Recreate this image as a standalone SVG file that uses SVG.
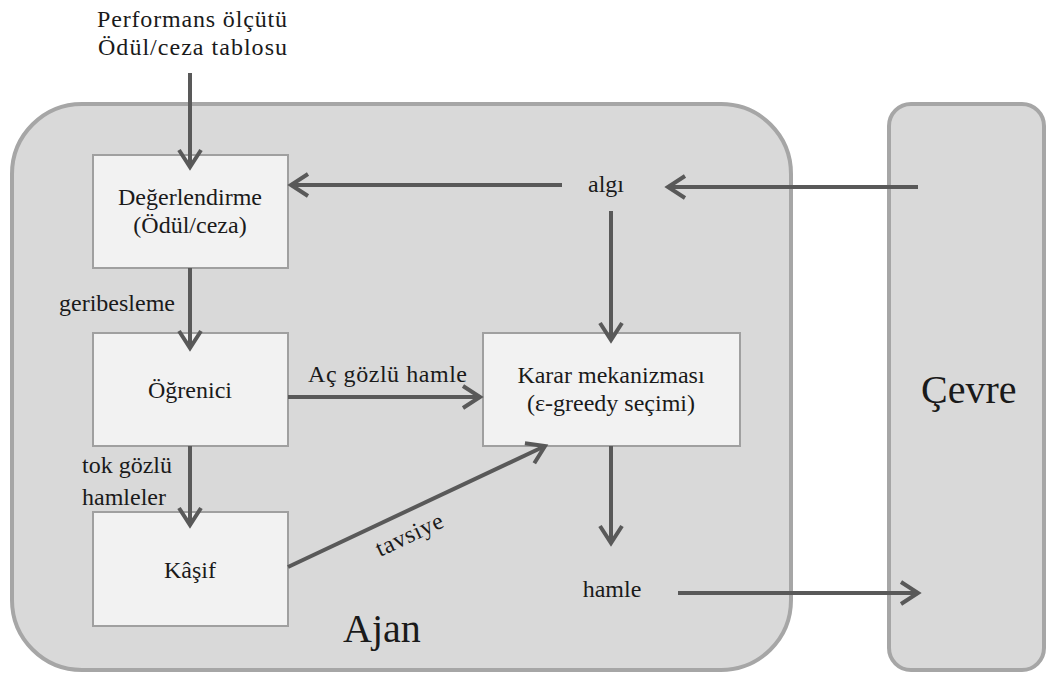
<svg xmlns="http://www.w3.org/2000/svg" width="1049" height="676" viewBox="0 0 1049 676">
<style>
.cont{fill:#d9d9d9;stroke:#a6a6a6;stroke-width:4}
.box{fill:#f2f2f2;stroke:#a0a0a0;stroke-width:2}
text{font-family:'Liberation Serif','Times New Roman','DejaVu Serif',serif;font-size:24px;fill:#1a1a1a}
.c{text-anchor:middle}
.big{font-size:40px}
.ln{fill:none;stroke:#595959;stroke-width:4}
</style>
<defs>
<marker id="ah" markerUnits="userSpaceOnUse" markerWidth="30" markerHeight="30" refX="0" refY="0" orient="auto" overflow="visible">
<path d="M-17,-11 L0,0 L-17,11" fill="none" stroke="#595959" stroke-width="4" stroke-linejoin="miter"/>
</marker>
</defs>
<rect width="1049" height="676" fill="#ffffff"/>
<g id="ajan">
<rect class="cont" x="12" y="104" width="779" height="566" rx="70" ry="70"/>
<text class="big" x="343" y="642">Ajan</text>
</g>
<g id="cevre">
<rect class="cont" x="889" y="104" width="155" height="566" rx="22" ry="22"/>
<text class="big" x="921" y="403">Çevre</text>
</g>
<g id="degerlendirme">
<rect class="box" x="93" y="155" width="195" height="113"/>
<text class="c" x="190" y="205">Değerlendirme</text>
<text class="c" x="190" y="233">(Ödül/ceza)</text>
</g>
<g id="ogrenici">
<rect class="box" x="93" y="333" width="195" height="113"/>
<text class="c" x="190" y="398">Öğrenici</text>
</g>
<g id="kasif">
<rect class="box" x="93" y="512" width="195" height="114"/>
<text class="c" x="190" y="578">Kâşif</text>
</g>
<g id="karar">
<rect class="box" x="483" y="333" width="257" height="113"/>
<text class="c" x="611" y="383">Karar mekanizması</text>
<text class="c" x="611" y="411">(ε-greedy seçimi)</text>
</g>
<g id="labels">
<text x="97" y="27" textLength="190">Performans ölçütü</text>
<text x="98" y="55" textLength="189">Ödül/ceza tablosu</text>
<text class="c" x="606" y="192">algı</text>
<text class="c" x="612" y="597">hamle</text>
</g>
<g id="connectors">
<line class="ln" x1="190" y1="73" x2="190" y2="167" marker-end="url(#ah)"/>
<line class="ln" x1="562" y1="185" x2="291" y2="185" marker-end="url(#ah)"/>
<line class="ln" x1="918" y1="187" x2="668" y2="187" marker-end="url(#ah)"/>
<line class="ln" x1="611" y1="211" x2="611" y2="340" marker-end="url(#ah)"/>
<line class="ln" x1="190" y1="268" x2="190" y2="348" marker-end="url(#ah)"/>
<text x="59" y="311">geribesleme</text>
<line class="ln" x1="288" y1="397" x2="480" y2="397" marker-end="url(#ah)"/>
<text x="308" y="382" textLength="159">Aç gözlü hamle</text>
<line class="ln" x1="190" y1="446" x2="190" y2="525" marker-end="url(#ah)"/>
<text x="82" y="473">tok gözlü</text>
<text x="82" y="505">hamleler</text>
<line class="ln" x1="288" y1="567" x2="545" y2="446" marker-end="url(#ah)"/>
<text x="0" y="0" font-size="19" textLength="72" transform="translate(380,557) rotate(-25.2)">tavsiye</text>
<line class="ln" x1="611" y1="446" x2="611" y2="543" marker-end="url(#ah)"/>
<line class="ln" x1="678" y1="593" x2="918" y2="593" marker-end="url(#ah)"/>
</g>
</svg>
